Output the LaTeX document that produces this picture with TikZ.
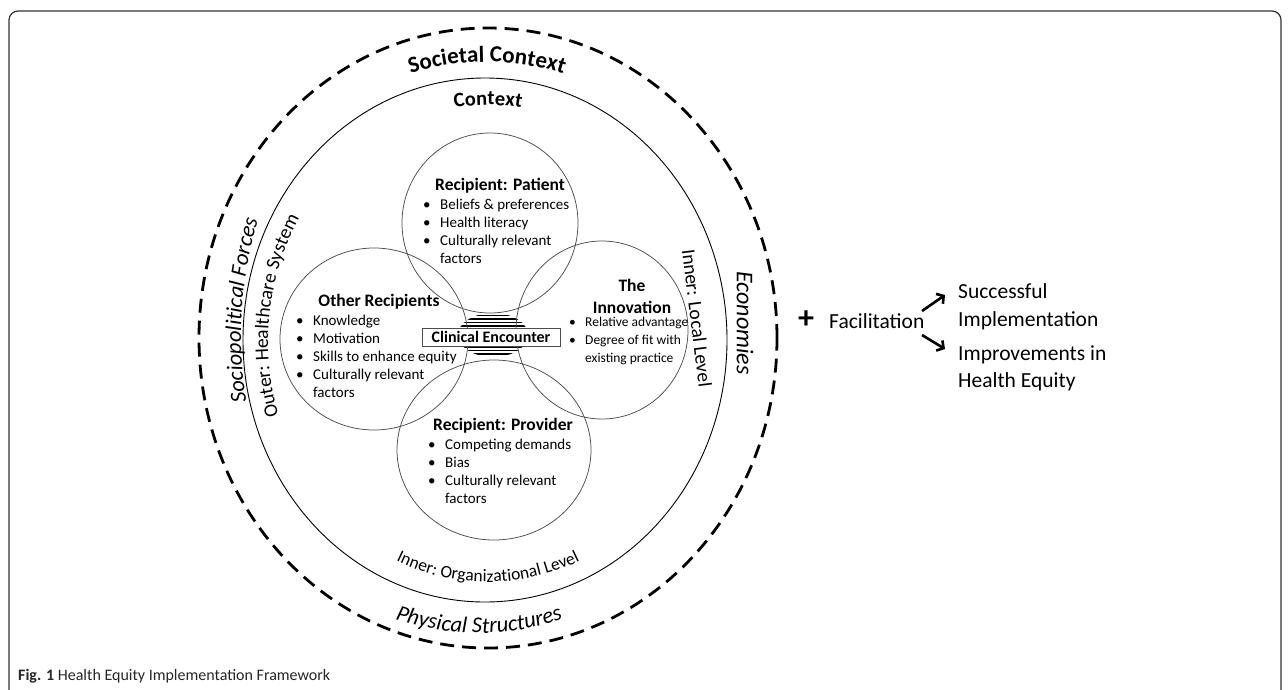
\documentclass[tikz,border=0pt]{standalone}
\usepackage{fontspec}
\setmainfont{Carlito}
\usetikzlibrary{decorations.text, shapes.geometric, arrows.meta}
\newcommand{\bul}{\makebox[17pt][l]{\textbullet}}
\newcommand{\bulb}{\makebox[16pt][l]{\textbullet}}
\begin{document}
\begin{tikzpicture}[x=1pt,y=-1pt,
  ring/.style={draw=black!70, line width=0.75pt, ellipse, inner sep=0pt},
  listtxt/.style={anchor=north west, align=left, inner sep=0pt, font=\fontsize{15}{18}\selectfont},
  smalllist/.style={anchor=north west, align=left, inner sep=0pt, font=\fontsize{13.5}{18}\selectfont},
  ttl/.style={font=\bfseries\fontsize{17.5}{22}\selectfont, inner sep=0pt, align=center},
  sidetxt/.style={inner sep=0pt, font=\fontsize{21.5}{28}\selectfont, align=left},
  outcome/.style={line width=2.6pt, -{Straight Barb[length=5pt,width=12pt]}},
  curvy/.style={decorate, decoration={text along path, text align=center, text={#1}}}
]
\useasboundingbox (0,0) rectangle (1288,689);
% frame
\draw[line width=1.2pt, black!80, rounded corners=9pt] (9,700) -- (9,11) -- (1281,11) -- (1281,700);

% outer dashed ellipse
\node[draw=black, line width=2.8pt, dash pattern=on 14pt off 8pt, ellipse, inner sep=0pt,
      minimum width=578pt, minimum height=620pt] (societal) at (488,338) {};
% context ellipse
\node[draw=black, line width=0.9pt, ellipse, inner sep=0pt,
      minimum width=484pt, minimum height=524pt] (context) at (485,340) {};

% clinical encounter hatch
\begin{scope}
\clip (493,335) ellipse [x radius=35, y radius=22];
\foreach \yy in {312,315.5,...,360} \draw[line width=1.7pt] (450,\yy) -- (540,\yy);
\end{scope}

% four circles
\node[ring, minimum width=176pt, minimum height=180pt] (patient) at (490,223) {};
\node[ring, minimum width=172pt, minimum height=178pt] (innov) at (602,330) {};
\node[ring, minimum width=188pt, minimum height=182pt] (other) at (374,339) {};
\node[ring, minimum width=194pt, minimum height=180pt] (provider) at (494,450) {};

% clinical encounter box
\node[draw=black!70, fill=white, line width=0.9pt, minimum width=138pt, minimum height=18pt, inner sep=0pt,
      font=\bfseries\fontsize{16}{18}\selectfont] (clin) at (491,337) {Clinical Encounter};

% patient
\node[ttl] (pt) at (500,186) {Recipient: Patient};
\node[listtxt] (ptl) at (423,199) {\bul Beliefs \& preferences\\\bul Health literacy\\\bul Culturally relevant\\\hspace*{17pt}factors};
% other
\node[ttl] (ot) at (379,302) {Other Recipients};
\node[listtxt] (otl) at (296,315) {\bul Knowledge\\\bul Motivation\\\bul Skills to enhance equity\\\bul Culturally relevant\\\hspace*{17pt}factors};
% innovation
\node[ttl] (it) at (632,296) {The\\Innovation};
\node[smalllist] (itl) at (569,317) {\bulb Relative advantage\\\bulb Degree of fit with\\\hspace*{16pt}existing practice};
% provider
\node[ttl] (prt) at (503,426) {Recipient: Provider};
\node[listtxt] (prl) at (428,439) {\bul Competing demands\\\bul Bias\\\bul Culturally relevant\\\hspace*{17pt}factors};

% curved labels
\path[curvy={|\bfseries\fontsize{23}{23}\selectfont|Societal Context}] (487,312) ++(240:250) arc[start angle=240, end angle=300, radius=250];
\path[curvy={|\bfseries\fontsize{20.5}{20.5}\selectfont|Context}] (488,305) ++(250:200) arc[start angle=250, end angle=290, radius=200];
\path[curvy={|\itshape\fontsize{22.5}{22.5}\selectfont|Sociopolitical Forces}] (641,336) ++(163.7:400) arc[start angle=163.7, end angle=203.7, radius=400];
\path[curvy={|\fontsize{19.5}{19.5}\selectfont|Outer: Healthcare System}] (528,342) ++(151:260) arc[start angle=151, end angle=221, radius=260];
\path[curvy={|\fontsize{17.5}{17.5}\selectfont|Inner: Organizational Level}] (488,372) ++(125:210) arc[start angle=125, end angle=55, radius=210];
\path[curvy={|\itshape\fontsize{22.5}{22.5}\selectfont|Physical Structures}] (479,373) ++(120:260) arc[start angle=120, end angle=60, radius=260];

\node[inner sep=0pt, rotate=-83, font=\fontsize{19.5}{19.5}\selectfont] (local) at (697,318) {Inner: Local Level};
\node[inner sep=0pt, rotate=-90, font=\itshape\fontsize{24}{24}\selectfont] (econ) at (745,323) {Economies};

% right side
\node[inner sep=0pt, font=\bfseries\fontsize{32}{32}\selectfont] (plus) at (806,320) {+};
\node[sidetxt, anchor=base west] (fac) at (829,328) {Facilitation};
\node[sidetxt, anchor=north west] (succ) at (958,283) {Successful\\Implementation};
\node[sidetxt, anchor=north west] (impr) at (958,345) {Improvements in\\Health Equity};
\coordinate (a1s) at (922,311);
\coordinate (a1e) at (945,295);
\coordinate (a2s) at (922,335);
\coordinate (a2e) at (945,349);
\draw[outcome] (a1s) -- (a1e);
\draw[outcome] (a2s) -- (a2e);

% caption
\node[anchor=base west, inner sep=0pt, font=\fontsize{16}{18}\selectfont, text=black!85] (cap) at (18,680) {\textbf{Fig. 1} Health Equity Implementation Framework};
\end{tikzpicture}
\end{document}
